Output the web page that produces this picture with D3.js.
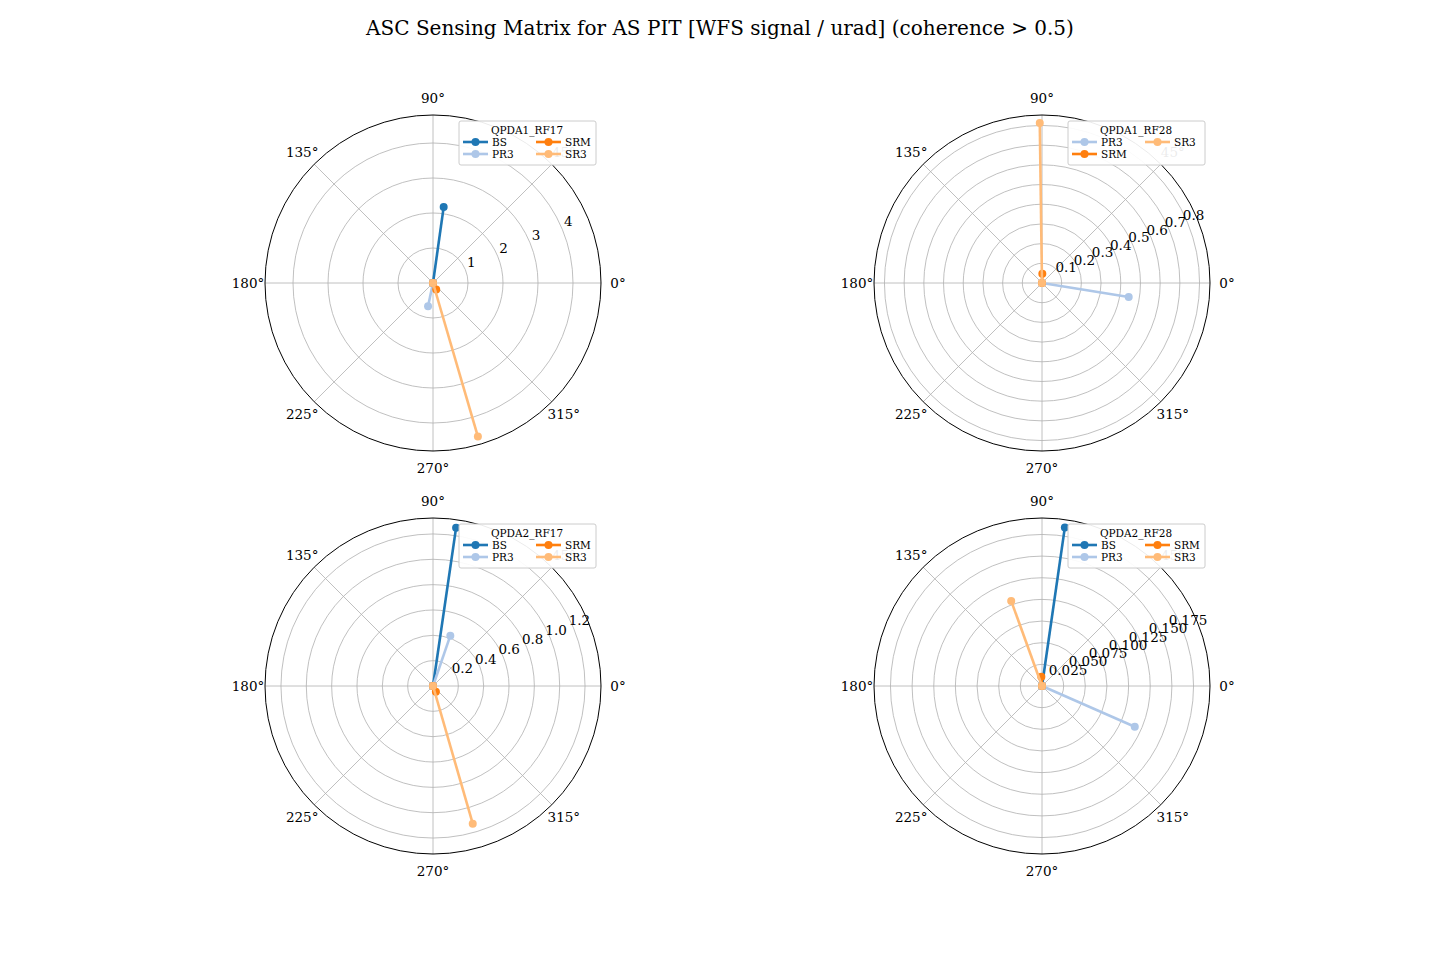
<!DOCTYPE html>
<html>
<head>
<meta charset="utf-8">
<script src="https://cdn.jsdelivr.net/npm/d3@7"></script>
<style>
body { margin: 0; background: #fff; }
text { font-family: "DejaVu Serif", serif; fill: #000; }
</style>
</head>
<body>
<div id="chart"></div>
<script>
// panels: title, center, radial max, ticks
var panelTitles = ["QPDA1_RF17", "QPDA1_RF28", "QPDA2_RF17", "QPDA2_RF28"];
var panelCenters = [[433, 283], [1042, 283], [433, 686], [1042, 686]];
var panelRmax = [4.8, 0.853, 1.326, 0.194];
var panelTicks = [
    ["1", "2", "3", "4"],
    ["0.1", "0.2", "0.3", "0.4", "0.5", "0.6", "0.7", "0.8"],
    ["0.2", "0.4", "0.6", "0.8", "1.0", "1.2"],
    ["0.025", "0.050", "0.075", "0.100", "0.125", "0.150", "0.175"]
];
var optics = ["BS", "PR3", "SRM", "SR3"];
var opticColors = ["#1f77b4", "#aec7e8", "#ff7f0e", "#ffbb78"];
// magnitude / phase(deg) per panel, null = not coherent
var magnitudes = [
    [2.19, 0.68, 0.21, 4.57],
    [null, 0.446, 0.047, 0.812],
    [1.263, 0.42, 0.05, 1.131],
    [0.185, 0.117, 0.0108, 0.1045]
];
var phases = [
    [82, 258, 296, 286.3],
    [null, 350.8, 88, 90.8],
    [81.7, 71, 297, 286.1],
    [81.8, 336.3, 94, 109.9]
];
var thetaTicks = [0, 45, 90, 135, 180, 225, 270, 315];

var R = 168;
var svg = d3.select("#chart").append("svg")
    .attr("width", 1440)
    .attr("height", 960);

svg.append("text")
    .attr("x", 720).attr("y", 35)
    .attr("text-anchor", "middle")
    .style("font-size", "20px")
    .text("ASC Sensing Matrix for AS PIT [WFS signal / urad] (coherence > 0.5)");

function xy(deg, r) {
    var a = deg * Math.PI / 180;
    return [r * Math.cos(a), -r * Math.sin(a)];
}

panelTitles.forEach(function(title, p) {
    var g = svg.append("g")
        .attr("transform", `translate(${panelCenters[p][0]},${panelCenters[p][1]})`);
    var rScale = d3.scaleLinear().domain([0, panelRmax[p]]).range([0, R]);

    // radial grid
    panelTicks[p].forEach(function(t) {
        g.append("circle").attr("r", rScale(+t))
            .attr("fill", "none").attr("stroke", "#b0b0b0").attr("stroke-width", 0.8);
    });
    thetaTicks.forEach(function(d) {
        var e = xy(d, R);
        g.append("line").attr("x1", 0).attr("y1", 0).attr("x2", e[0]).attr("y2", e[1])
            .attr("stroke", "#b0b0b0").attr("stroke-width", 0.8);
        var l = xy(d, R + 17);
        g.append("text").attr("x", l[0]).attr("y", l[1])
            .attr("text-anchor", "middle").attr("dominant-baseline", "central")
            .style("font-size", "13.5px").text(d + "°");
    });
    g.append("circle").attr("r", R).attr("fill", "none")
        .attr("stroke", "#000").attr("stroke-width", 1);

    panelTicks[p].forEach(function(t) {
        var pos = xy(22.5, rScale(+t));
        g.append("text").attr("x", pos[0] + 6).attr("y", pos[1] - 8)
            .attr("text-anchor", "middle").attr("dominant-baseline", "central")
            .style("font-size", "13.5px").text(t);
    });

    // series
    var shown = [];
    optics.forEach(function(o, i) {
        if (magnitudes[p][i] === null) return;
        shown.push(i);
        var end = xy(phases[p][i], rScale(magnitudes[p][i]));
        g.append("line").attr("x1", 0).attr("y1", 0).attr("x2", end[0]).attr("y2", end[1])
            .attr("stroke", opticColors[i]).attr("stroke-width", 2.6);
        [[0, 0], end].forEach(function(pt) {
            g.append("circle").attr("cx", pt[0]).attr("cy", pt[1]).attr("r", 4)
                .attr("fill", opticColors[i]);
        });
    });

    // legend
    var lg = g.append("g").attr("transform", "translate(26,-162)");
    lg.append("rect").attr("width", 137).attr("height", 44).attr("rx", 2)
        .attr("fill", "rgba(255,255,255,0.92)").attr("stroke", "#ccc");
    lg.append("text").attr("x", 68).attr("y", 9).attr("text-anchor", "middle")
        .attr("dominant-baseline", "central").style("font-size", "10.5px").text(title);
    var rows = Math.ceil(shown.length / 2);
    shown.forEach(function(i, k) {
        var col = Math.floor(k / rows), row = k % rows;
        var x0 = 4 + col * 73, y0 = 21 + row * 12;
        lg.append("line").attr("x1", x0).attr("x2", x0 + 25).attr("y1", y0).attr("y2", y0)
            .attr("stroke", opticColors[i]).attr("stroke-width", 2.6);
        lg.append("circle").attr("cx", x0 + 12.5).attr("cy", y0).attr("r", 4)
            .attr("fill", opticColors[i]);
        lg.append("text").attr("x", x0 + 29).attr("y", y0)
            .attr("dominant-baseline", "central").style("font-size", "10.5px").text(optics[i]);
    });
});
</script>
</body>
</html>
